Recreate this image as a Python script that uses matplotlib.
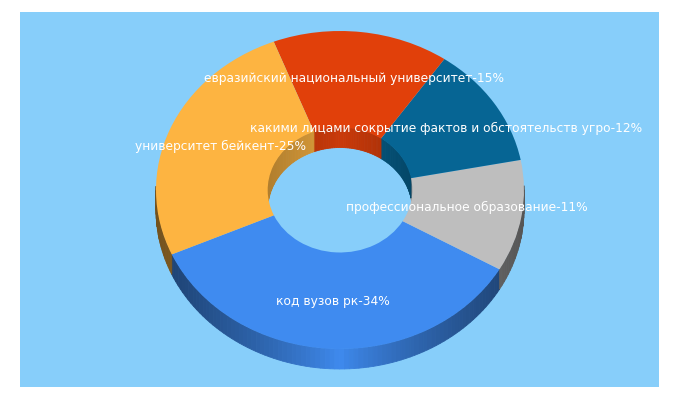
import numpy as np
import matplotlib
matplotlib.use("Agg")
import matplotlib.pyplot as plt

labels = ["код вузов рк", "профессиональное образование",
          "какими лицами сокрытие фактов и обстоятельств угро",
          "евразийский национальный университет", "университет бейкент"]
values = [34, 11, 12, 15, 25]
colors = ["#3F8BF0", "#BEBEBE", "#066594", "#E1400A", "#FDB441"]
label_px = [(333, 301), (467, 207.5), (446.5, 128.5), (354.5, 78.5), (220.5, 146.5)]

START = 203.9
CX, CY, RX, RY = 340, 190, 184, 159
HOLE = 0.393
DEPTH = 20 / RY
BG = "#87CEFA"

fig = plt.figure(figsize=(6.8, 4), dpi=100, facecolor="white")
ax = fig.add_axes([20 / 680, 1 - 387 / 400, 639 / 680, 375 / 400])

px2x = lambda p: (p - CX) / RX
px2y = lambda p: (CY - p) / RY


def shade(c, f):
    return tuple(v * f for v in matplotlib.colors.to_rgb(c))


edges = START + np.concatenate([[0], np.cumsum(values)]) / sum(values) * 360


def wall(radius, a0, a1, color, fn, keep):
    grid = np.arange(a0, a1 + 1.5, 1.5)
    grid[-1] = a1
    for t0, t1 in zip(grid[:-1], grid[1:]):
        mid = np.radians((t0 + t1) / 2)
        if not keep(np.sin(mid)):
            continue
        r0, r1 = np.radians(t0), np.radians(t1)
        xs = radius * np.array([np.cos(r0), np.cos(r1), np.cos(r1), np.cos(r0)])
        ys = radius * np.array([np.sin(r0), np.sin(r1), np.sin(r1), np.sin(r0)])
        ys = ys + np.array([0, 0, -DEPTH, -DEPTH])
        c = shade(color, fn(np.cos(mid)))
        ax.fill(xs, ys, color=c, lw=0.6, zorder=1)


for a0, a1, col in zip(edges[:-1], edges[1:], colors):
    wall(1.0, a0, a1, col, lambda c: 1 - 0.55 * abs(c) ** 0.8, lambda s: s < 0.02)
    wall(HOLE, a0, a1, col, lambda c: 0.9 - 0.2 * abs(c), lambda s: s > -0.02)

wedges, _ = ax.pie(values, colors=colors, startangle=START, counterclock=True,
                   radius=1.0, wedgeprops=dict(width=1 - HOLE, lw=0))
for w in wedges:
    w.set_zorder(2)

ax.set_aspect("auto")
ax.set_xlim(px2x(20), px2x(659))
ax.set_ylim(px2y(387), px2y(12))
ax.set_frame_on(True)
ax.set_facecolor(BG)
for s in ax.spines.values():
    s.set_visible(False)
ax.set_xticks([])
ax.set_yticks([])

for lab, val, (px, py) in zip(labels, values, label_px):
    ax.text(px2x(px), px2y(py), f"{lab}-{val}%", color="white", fontsize=8.8,
            family="DejaVu Sans", ha="center", va="center", zorder=3)

fig.savefig("out.png", dpi=100)
